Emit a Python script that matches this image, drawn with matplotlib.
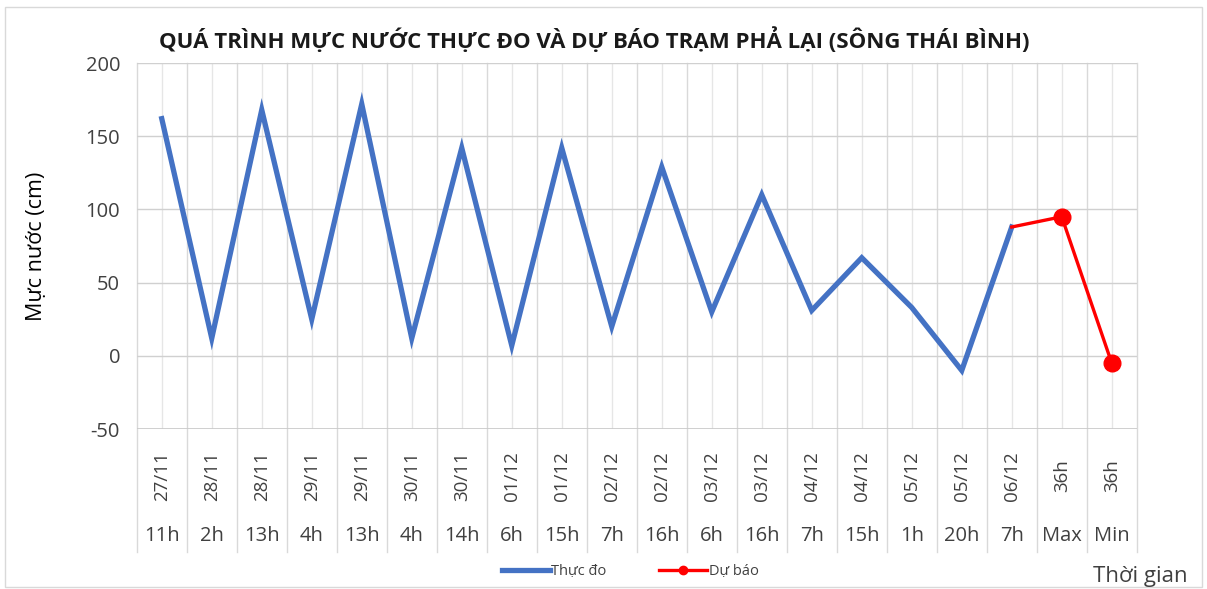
import matplotlib
matplotlib.use("Agg")
import matplotlib.pyplot as plt
import matplotlib.transforms as mtransforms
from matplotlib.patches import Rectangle
import numpy as np

plt.rcParams["font.family"] = ["Open Sans", "Noto Sans", "DejaVu Sans"]
plt.rcParams["axes.unicode_minus"] = False

# category axis: two levels (date on top, rotated; hour below)
dates = ["27/11", "28/11", "28/11", "29/11", "29/11", "30/11", "30/11",
         "01/12", "01/12", "02/12", "02/12", "03/12", "03/12", "04/12",
         "04/12", "05/12", "05/12", "06/12", "36h", "36h"]
hours = ["11h", "2h", "13h", "4h", "13h", "4h", "14h", "6h", "15h", "7h",
         "16h", "6h", "16h", "7h", "15h", "1h", "20h", "7h", "Max", "Min"]

# water level (cm)
observed = [162, 12, 168, 25, 172, 12, 142, 7, 142, 20, 129, 30, 110, 31,
            67, 33, -10, 88, None, None]
forecast = [None] * 17 + [88, 95, -5]

BLUE, RED, TXT, GRID = "#4472C4", "#FF0000", "#404040", "#D9D9D9"


def to_arr(vals):
    return np.array([np.nan if v is None else v for v in vals], dtype=float)


fig = plt.figure(figsize=(12.07, 5.89), dpi=100)
ax = fig.add_axes([0.1133, 0.2716, 0.8285, 0.6214])

x = np.arange(len(hours))
ax.plot(x, to_arr(observed), color=BLUE, lw=3.8, solid_joinstyle="miter",
        label="Thực đo", zorder=3)
fc = to_arr(forecast)
marks = [i for i in range(len(fc)) if not np.isnan(fc[i])][1:]
ax.plot(x, fc, color=RED, lw=2.4, marker="o", ms=12,
        markevery=marks, label="Dự báo", zorder=4)

ax.set_xlim(-0.5, len(hours) - 0.5)
ax.set_ylim(-50, 200)
ax.set_yticks(np.arange(-50, 201, 50))
ax.tick_params(axis="y", length=0, labelsize=14.5, colors=TXT, pad=12)
ax.set_xticks([])
ax.grid(axis="y", color="#D0D0D0", lw=1.0, zorder=0)
for s in ax.spines.values():
    s.set_visible(False)
ax.axhline(-50, color="#C8C8C8", lw=1.2, zorder=1)

# vertical lines: category boundaries (extend into label area) and centres
trans = mtransforms.blended_transform_factory(ax.transData, ax.transAxes)
for b in np.arange(-0.5, len(hours), 1.0):
    ax.plot([b, b], [-0.336, 1], transform=trans, color=GRID, lw=1.0,
            clip_on=False, zorder=0)
for c in x:
    ax.plot([c, c], [0, 1], transform=trans, color="#E6E6E6", lw=1.0,
            zorder=0)

for i in x:
    ax.text(i, -0.128, dates[i], transform=trans, rotation=90,
            ha="center", va="center", fontsize=13.5, color=TXT)
    ax.text(i, -0.292, hours[i], transform=trans, ha="center",
            va="center", fontsize=14.5, color=TXT)

ax.set_ylabel("Mực nước (cm)", fontsize=15.5, color="black")
ax.yaxis.set_label_coords(-0.09, 0.5)

fig.text(0.492, 0.932, "QUÁ TRÌNH MỰC NƯỚC THỰC ĐO VÀ DỰ BÁO TRẠM PHẢ LẠI "
         "(SÔNG THÁI BÌNH)", ha="center", va="center", fontsize=16,
         fontweight="bold", color="#1A1A1A")

fig.legend(loc="center", bbox_to_anchor=(0.522, 0.029), ncol=2,
           frameon=False, fontsize=10.5, handlelength=3.3, handletextpad=0.1,
           columnspacing=3.6, markerscale=0.5, labelcolor=TXT)
fig.text(0.984, 0.022, "Thời gian", ha="right", va="center", fontsize=16,
         color=TXT)

fig.patches.append(Rectangle((0.004, 0.003), 0.992, 0.985,
                             transform=fig.transFigure, fill=False,
                             edgecolor="#D9D9D9", lw=1.0))

fig.savefig("out.png", dpi=100)
